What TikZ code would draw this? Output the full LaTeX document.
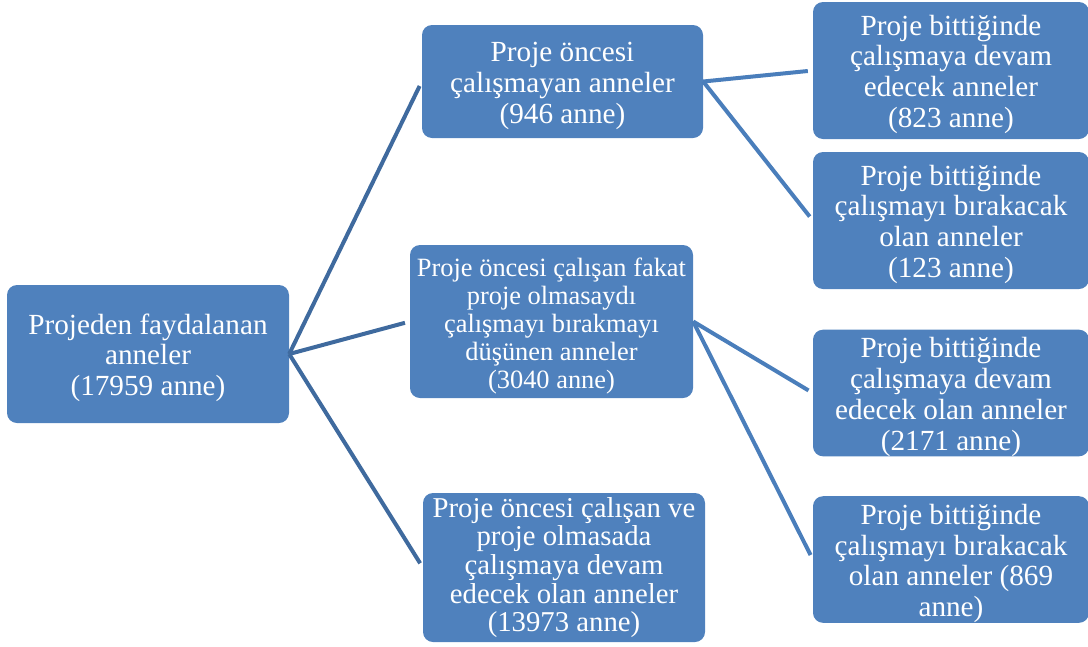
\documentclass[tikz,border=0pt]{standalone}
\usepackage{fontspec}
\setmainfont{Liberation Serif}
\usepackage{tikz}
\usetikzlibrary{positioning}
\definecolor{boxblue}{HTML}{4F81BD}
\definecolor{linkdark}{HTML}{3F6A9E}
\definecolor{linklight}{HTML}{4A7EBB}
\newcommand{\toplift}{\rule{0pt}{28pt}}
\tikzset{box/.style={rectangle,rounded corners=10pt,fill=boxblue,text=white,align=center,inner sep=0pt,font=\fontsize{29.2}{30.8}\selectfont},linkone/.style={draw=linkdark,line width=4pt,shorten >=5pt},linktwo/.style={draw=linklight,line width=4pt,shorten >=5pt}}

\begin{document}
\begin{tikzpicture}[x=1pt,y=-1pt]
\useasboundingbox (0,0) rectangle (1088,646);
\node[box,minimum width=282pt,minimum height=138pt] (root) at (148,354) {\toplift Projeden faydalanan\\anneler\\(17959 anne)};
\node[box,minimum width=281pt,minimum height=113pt] (oncesiyok) at (562.5,81.5) {\toplift Proje öncesi\\çalışmayan anneler\\(946 anne)};
\node[box,minimum width=283pt,minimum height=153pt,font=\fontsize{26.4}{28}\selectfont] (fakat) at (551.5,321.5) {\toplift Proje öncesi çalışan fakat\\proje olmasaydı\\çalışmayı bırakmayı\\düşünen anneler\\(3040 anne)};
\node[box,minimum width=282pt,minimum height=149pt,font=\fontsize{28.75}{28.6}\selectfont] (devam) at (564,567.5) {Proje öncesi çalışan ve\\proje olmasada\\çalışmaya devam\\edecek olan anneler\\(13973 anne)};
\node[box,minimum width=276pt,minimum height=137pt] (yokdevam) at (951,70.5) {\toplift Proje bittiğinde\\çalışmaya devam\\edecek anneler\\(823 anne)};
\node[box,minimum width=276pt,minimum height=137pt] (yokbirak) at (951,220.5) {\toplift Proje bittiğinde\\çalışmayı bırakacak\\olan anneler\\(123 anne)};
\node[box,minimum width=276pt,minimum height=124pt] (fakatdevam) at (951,393) {\toplift Proje bittiğinde\\çalışmaya devam\\edecek olan anneler\\(2171 anne)};
\node[box,minimum width=276pt,minimum height=125pt] (fakatbirak) at (951,559.5) {\toplift Proje bittiğinde\\çalışmayı bırakacak\\olan anneler (869\\anne)};
\draw[linkone] (root.east) -- (oncesiyok.west);
\draw[linkone] (root.east) -- (fakat.west);
\draw[linkone] (root.east) -- (devam.west);
\draw[linktwo] (oncesiyok.east) -- (yokdevam.west);
\draw[linktwo] (oncesiyok.east) -- (yokbirak.west);
\draw[linktwo] (fakat.east) -- (fakatdevam.west);
\draw[linktwo] (fakat.east) -- (fakatbirak.west);
\end{tikzpicture}
\end{document}
